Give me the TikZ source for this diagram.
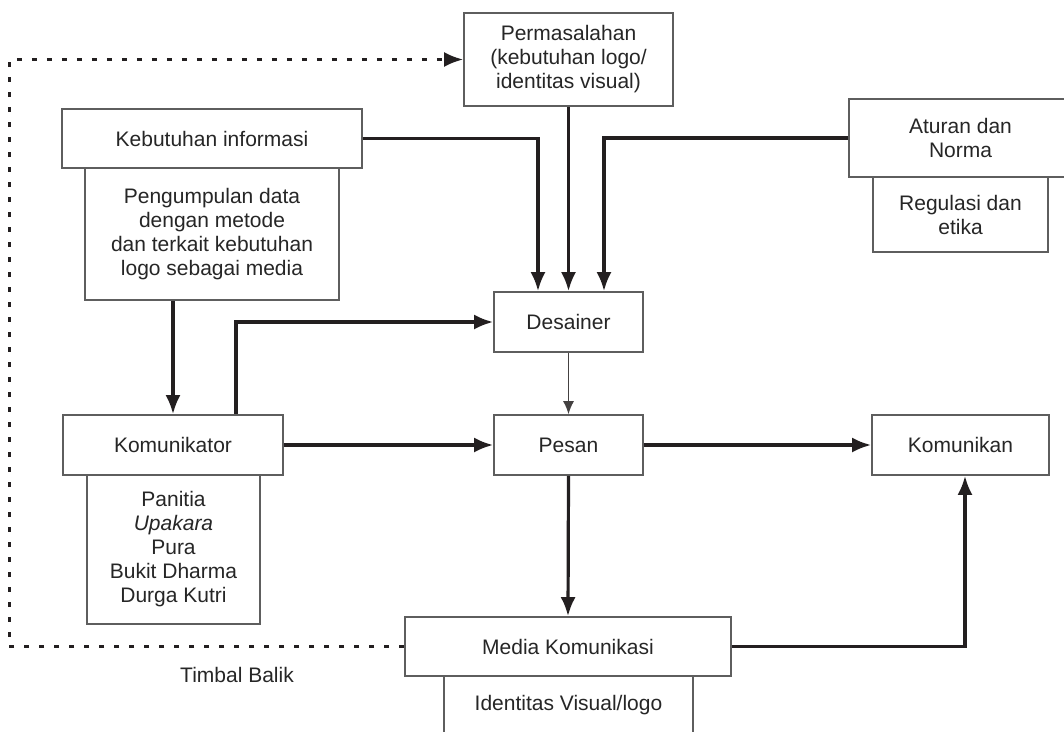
\documentclass[tikz,border=0pt]{standalone}
\usepackage{fontspec}
\setmainfont{Liberation Sans}
\usetikzlibrary{arrows.meta}
\definecolor{ink}{HTML}{231F20}
\definecolor{txt}{HTML}{262626}
\definecolor{frame}{HTML}{5E5E5E}
\begin{document}
\begin{tikzpicture}[x=1pt,y=-1pt,
  box/.style={draw=frame,line width=1.6pt,fill=white,rectangle,inner sep=0pt,align=center,text=txt,
    font=\fontsize{21}{24}\selectfont},
  conn/.style={draw=ink,line width=3.2pt,-{Latex[length=19pt,width=15pt]}},
  thin/.style={draw=ink!85,line width=1.5pt,-{Latex[length=13pt,width=11pt]}},
  fb/.style={draw=ink,line width=3pt,dash pattern=on 5pt off 10pt,-{Latex[length=19pt,width=15pt]}},
  lbl/.style={text=txt,font=\fontsize{21}{24}\selectfont}]
\useasboundingbox[fill=white] (0,0) rectangle (1064,731);
% boxes
\node[box,minimum width=209pt,minimum height=93pt] (perm) at (568.5,59.5) {Permasalahan\\(kebutuhan logo/\\identitas visual)};
\node[box,minimum width=254pt,minimum height=132pt] (peng) at (212,234) {Pengumpulan data\\dengan metode\\dan terkait kebutuhan\\logo sebagai media};
\node[box,minimum width=300pt,minimum height=59pt] (keb) at (212,138.5) {Kebutuhan informasi};
\node[box,minimum width=175pt,minimum height=75pt] (reg) at (960.5,214.5) {Regulasi dan\\etika};
\node[box,minimum width=223pt,minimum height=78pt] (atur) at (960.5,138) {Aturan dan\\Norma};
\node[box,minimum width=149pt,minimum height=60pt] (des) at (568.5,322) {Desainer};
\node[box,minimum width=173pt,minimum height=149pt] (pan) at (173.5,549.5) {Panitia\\\textit{Upakara}\\Pura\\Bukit Dharma\\Durga Kutri};
\node[box,minimum width=220pt,minimum height=60pt] (kom) at (173,445) {Komunikator};
\node[box,minimum width=149pt,minimum height=60pt] (pes) at (568.5,445) {Pesan};
\node[box,minimum width=177pt,minimum height=60pt] (komn) at (960.5,445) {Komunikan};
\node[box,minimum width=249pt,minimum height=58pt] (ident) at (568.5,705) {Identitas Visual/logo};
\node[box,minimum width=326pt,minimum height=59pt] (med) at (568,646.5) {Media Komunikasi};
\node[lbl] (tb) at (237,675) {Timbal Balik};
% connectors
\draw[conn] (keb.east) -| ([xshift=-30.5pt]des.north);
\draw[conn] (perm.south) -- (des.north);
\draw[conn] (atur.west) -| ([xshift=35.5pt]des.north);
\draw[conn] (kom.north |- peng.south) -- (kom.north);
\draw[conn] ([xshift=63pt]kom.north) |- (des.west);
\draw[thin] (des.south) -- (pes.north);
\draw[conn] (kom.east) -- (pes.west);
\draw[conn] (pes.east) -- (komn.west);
\draw[conn] (pes.south) -- (med.north);
\draw[conn] (med.east) -| ([xshift=4.5pt]komn.south);
\coordinate (fbl) at (9,646.5);
\coordinate (fbt) at (9,59.5);
\draw[fb] (med.west) -- (fbl) -- (fbt) -- (perm.west);
\end{tikzpicture}
\end{document}
